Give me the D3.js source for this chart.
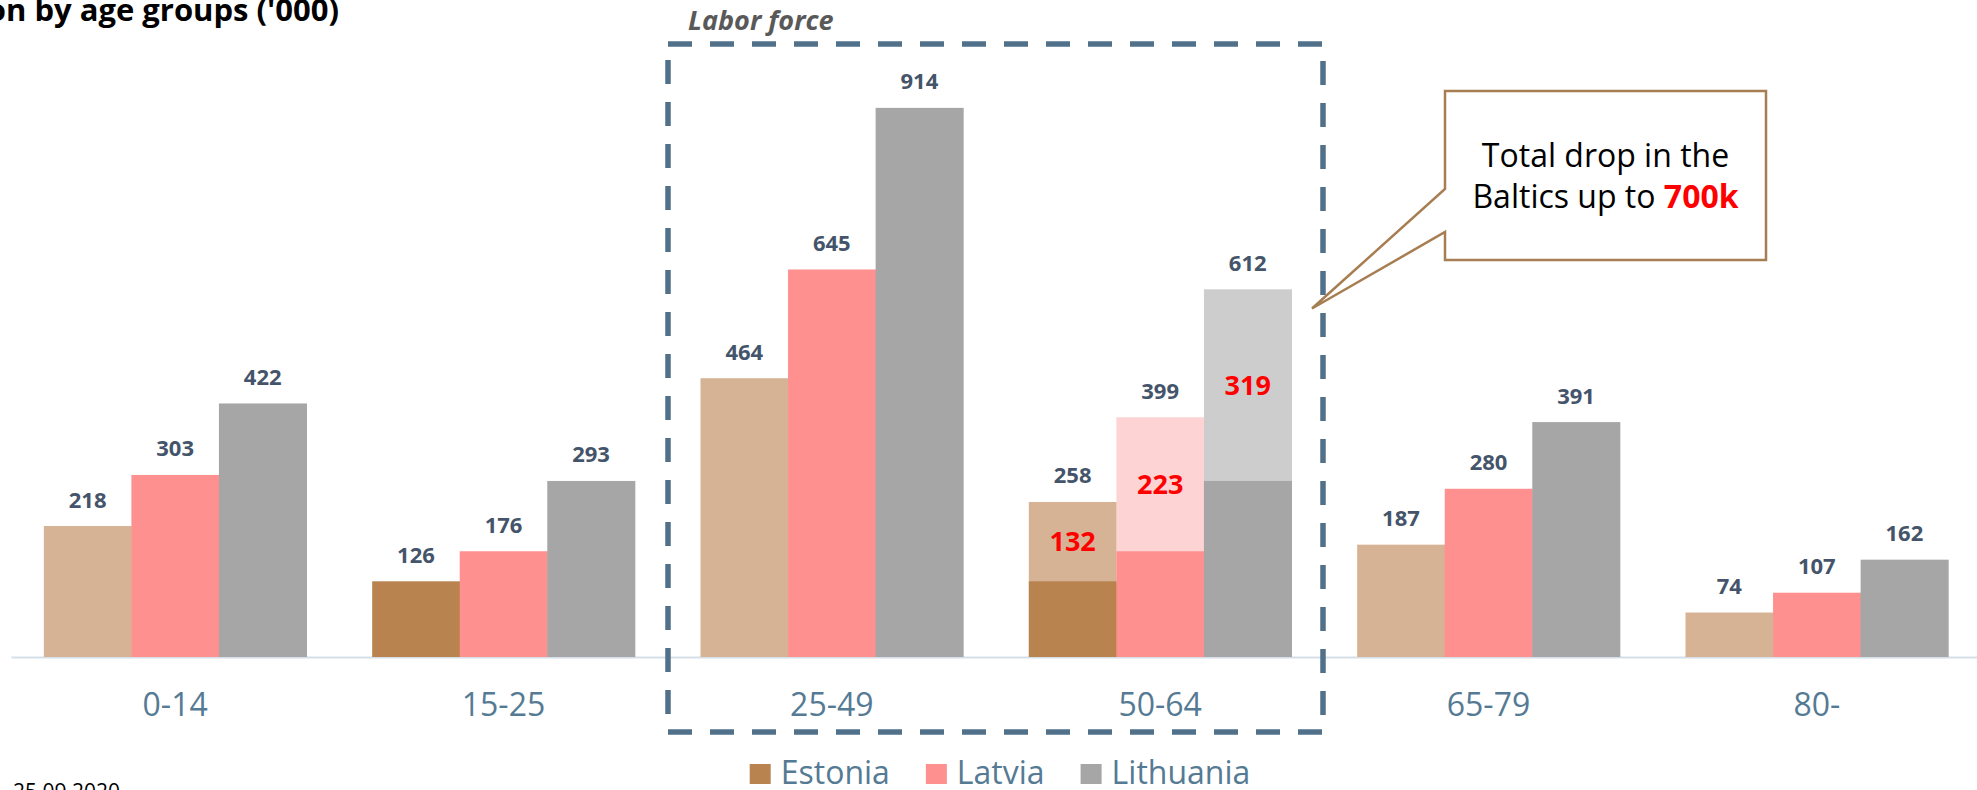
<!DOCTYPE html>
<html>
<head>
<meta charset="utf-8">
<script src="https://cdn.jsdelivr.net/npm/d3@7"></script>
<style>
	html, body { margin: 0; padding: 0; background: #fff; overflow: hidden; }
	text { font-family: "Open Sans", "Noto Sans", sans-serif; }
</style>
</head>
<body>
<svg id="chart" width="1977" height="790"></svg>
<script>
"use strict";

//
//	Data, in thousands
//
var categories = ["0-14", "15-25", "25-49", "50-64", "65-79", "80-"];
var series = ["Estonia", "Latvia", "Lithuania"];
var estonia = [218, 126, 464, 258, 187, 74];
var latvia = [303, 176, 645, 399, 280, 107];
var lithuania = [422, 293, 914, 612, 391, 162];

//	the 50-64 bars are split: the lower part is the 15-25 cohort
var splitCategory = "50-64";
var splitBase = [126, 176, 293];

var calloutLines = ["Total drop in the", "Baltics up to "];
var calloutValue = "700k";
var boxLabel = "Labor force";
var titleText = "on by age groups ('000)";
var dateText = "25.09.2020";

var values = { Estonia: estonia, Latvia: latvia, Lithuania: lithuania };

var fullColor = { Estonia: "#B9834F", Latvia: "#FE9090", Lithuania: "#A6A6A6" };
var paleColor = { Estonia: "#D6B394", Latvia: "#FDD3D3", Lithuania: "#CDCDCD" };
var labelColor = "#44546A";
var axisColor = "#557A94";

var svg = d3.select("#chart");

var x = d3.scaleBand().domain(categories).range([11, 1981]).paddingInner(0.2).paddingOuter(0.1);
var xs = d3.scaleBand().domain(series).range([0, x.bandwidth()]);
var y = d3.scaleLinear().domain([0, 1000]).range([657, 56.2]);

//
//	flatten into one record per bar
//
var bars = [];
categories.forEach(function(c, i){
	series.forEach(function(s, j){
		var split = (c == splitCategory);
		bars.push({
			cat: c, ser: s, value: values[s][i],
			base: split ? splitBase[j] : 0,
			// only the 15-25 Estonia bar keeps its full colour
			fill: (s != "Estonia" || c == "15-25") ? fullColor[s] : paleColor[s]
		});
	});
});

function barX(d){ return x(d.cat) + xs(d.ser); }

//	axis line and category labels
var axis = svg.append("g")
	.attr("transform", "translate(0," + y(0) + ")")
	.call(d3.axisBottom(x).tickSize(0).tickPadding(0));
axis.select(".domain").attr("stroke", "#D6DFE8").attr("stroke-width", 2);
axis.selectAll(".tick text")
	.attr("y", 59).attr("dy", null)
	.attr("fill", axisColor)
	.style("font-size", "32px")
	.style("font-family", "'Open Sans', sans-serif");

var g = svg.append("g");

//	plain bars, or the pale top part for the split group
g.selectAll("rect.bar").data(bars).enter().append("rect")
	.attr("class", "bar")
	.attr("x", barX)
	.attr("width", xs.bandwidth() + 0.5)
	.attr("y", function(d){ return y(d.value); })
	.attr("height", function(d){ return y(0) - y(d.value); })
	.attr("fill", function(d){ return d.base ? paleColor[d.ser] : d.fill; });

//	lower part of the split bars
var splitBars = bars.filter(function(d){ return d.base > 0; });
g.selectAll("rect.base").data(splitBars).enter().append("rect")
	.attr("class", "base")
	.attr("x", barX)
	.attr("width", xs.bandwidth() + 0.5)
	.attr("y", function(d){ return y(d.base); })
	.attr("height", function(d){ return y(0) - y(d.base); })
	.attr("fill", function(d){ return fullColor[d.ser]; });

//	value labels
g.selectAll("text.val").data(bars).enter().append("text")
	.attr("class", "val")
	.attr("x", function(d){ return barX(d) + xs.bandwidth() / 2; })
	.attr("y", function(d){ return y(d.value) - 18.5; })
	.attr("text-anchor", "middle")
	.attr("fill", labelColor)
	.style("font-size", "22px")
	.style("font-weight", "bold")
	.text(function(d){ return d.value; });

//	the drop, in red, in the middle of the pale part
g.selectAll("text.drop").data(splitBars).enter().append("text")
	.attr("class", "drop")
	.attr("x", function(d){ return barX(d) + xs.bandwidth() / 2; })
	.attr("y", function(d){ return (y(d.value) + y(d.base)) / 2; })
	.attr("dy", "0.36em")
	.attr("text-anchor", "middle")
	.attr("fill", "#FF0000")
	.style("font-size", "27px")
	.style("font-weight", "bold")
	.text(function(d){ return d.value - d.base; });

//
//	Dashed frame round the labor force groups
//
var fx0 = x("25-49") - 32.5, fx1 = x("50-64") + x.bandwidth() + 31.5;
svg.append("rect")
	.attr("x", fx0).attr("y", 44)
	.attr("width", fx1 - fx0).attr("height", 688)
	.attr("fill", "none")
	.attr("stroke", "#51718B")
	.attr("stroke-width", 5.5)
	.attr("stroke-dasharray", "24 18");

svg.append("text")
	.attr("x", fx0 + 20).attr("y", 30)
	.attr("fill", "#595959")
	.style("font-size", "27px")
	.style("font-weight", "bold")
	.style("font-style", "italic")
	.text(boxLabel);

//
//	Callout box
//
var bx0 = 1445, bx1 = 1766, by0 = 91, by1 = 260;
var tipX = fx1 - 11, tipY = y(580);
svg.append("path")
	.attr("d", "M" + bx0 + "," + by0 + "H" + bx1 + "V" + by1 + "H" + bx0 +
		"V232L" + tipX + "," + tipY + "L" + bx0 + ",189Z")
	.attr("fill", "#fff")
	.attr("stroke", "#A77D52")
	.attr("stroke-width", 2.5)
	.attr("stroke-linejoin", "miter");

var ct = svg.append("text")
	.attr("text-anchor", "middle")
	.attr("fill", "#000")
	.style("font-size", "32px");
ct.append("tspan").attr("x", (bx0 + bx1) / 2).attr("y", 167).text(calloutLines[0]);
var l2 = ct.append("tspan").attr("x", (bx0 + bx1) / 2).attr("y", 208);
l2.append("tspan").text(calloutLines[1]);
l2.append("tspan").attr("fill", "#FF0000").style("font-weight", "bold").text(calloutValue);

//	title (cut off at the left and top edges) and date
svg.append("text")
	.attr("x", 339).attr("y", 21)
	.attr("text-anchor", "end")
	.attr("fill", "#000")
	.style("font-size", "31px")
	.style("font-weight", "bold")
	.text(titleText);

svg.append("text")
	.attr("x", 13).attr("y", 799)
	.attr("fill", "#000")
	.style("font-size", "21px")
	.text(dateText);

//
//	Legend, centred under the chart
//
var legend = svg.append("g");
var lx = 0;
series.forEach(function(s){
	var item = legend.append("g").attr("transform", "translate(" + lx + ",0)");
	item.append("rect").attr("x", 0).attr("y", 764).attr("width", 21).attr("height", 20)
		.attr("fill", fullColor[s]);
	var t = item.append("text").attr("x", 31).attr("y", 784)
		.attr("fill", axisColor)
		.style("font-size", "32px")
		.text(s);
	lx += 31 + t.node().getComputedTextLength() + 36;
});
lx -= 36;
legend.attr("transform", "translate(" + (1000 - lx / 2) + ",0)");
</script>
</body>
</html>
